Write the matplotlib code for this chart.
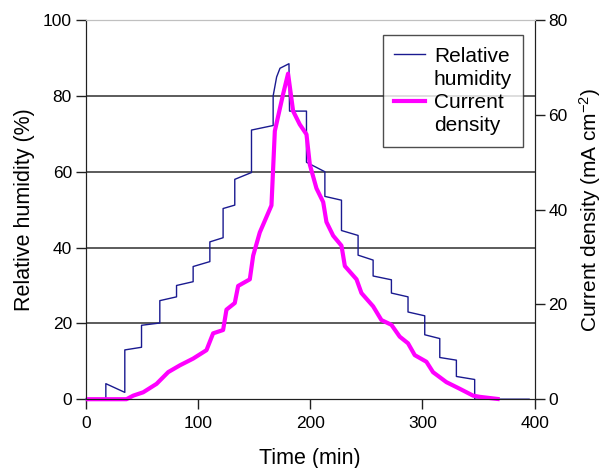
import matplotlib
matplotlib.use("Agg")
import matplotlib.pyplot as plt
from matplotlib.lines import Line2D

plt.rcParams['font.family'] = ['Liberation Sans', 'DejaVu Sans']
plt.rcParams['mathtext.fontset'] = 'custom'
plt.rcParams['mathtext.rm'] = 'Liberation Sans'
plt.rcParams['mathtext.it'] = 'Liberation Sans:italic'

# relative humidity (%), stepwise humidification then dehumidification
rh_time = [0, 17.8, 17.8, 34.7, 34.7, 49.6, 49.6, 65.9, 65.9, 80.8, 80.8,
           95.6, 95.6, 110.5, 110.5, 122.3, 122.3, 132.7, 132.7, 147.6, 147.6,
           166.9, 166.9, 170, 173, 181, 181.5, 196.6, 196.6, 213, 213,
           227.8, 227.8, 242.6, 242.6, 256, 256, 272.3, 272.3, 287.1, 287.1,
           302, 302, 315.4, 315.4, 330.2, 330.2, 346.5, 346.5, 395]
rh_value = [0, 0, 4.1, 1.8, 13.0, 13.7, 19.5, 20.1, 26.0, 27.0, 30.0,
            31.0, 35.0, 36.3, 41.5, 42.6, 50.3, 51.2, 58.0, 59.8, 71.0,
            72.2, 80.0, 85.0, 87.3, 88.5, 76.0, 76.0, 62.5, 60.0, 53.5,
            52.5, 44.5, 43.2, 38.0, 36.7, 32.5, 31.5, 28.0, 27.0, 23.0,
            22.0, 17.0, 16.0, 11.0, 10.3, 6.0, 5.2, 0, 0]

# current density (mA cm-2)
cd_time = [0, 36.2, 42.2, 51.1, 63.0, 73.4, 83.8, 95.6, 107.5, 113.4, 122.3,
           125.3, 132.7, 135.7, 146.1, 149.1, 155.0, 165.4, 168.4, 175.8,
           180.2, 184.7, 190.6, 196.6, 199.6, 205.5, 211.5, 214.4, 220.4,
           227.8, 230.8, 241.2, 245.6, 256.0, 263.4, 272.3, 279.7, 287.1,
           293.1, 303.5, 309.4, 321.3, 333.2, 345.1, 351.0, 368.8]
cd_value = [0, 0, 0.75, 1.46, 3.24, 5.72, 7.15, 8.57, 10.35, 13.9, 14.6,
            18.9, 20.3, 23.9, 25.3, 30.3, 35.2, 40.9, 56.6, 64.4,
            68.7, 60.8, 58.0, 55.9, 49.5, 44.5, 41.6, 37.4, 34.5,
            32.4, 28.1, 25.3, 22.4, 19.6, 16.7, 15.7, 13.2, 11.8,
            9.3, 7.9, 5.7, 3.6, 2.2, 0.75, 0.5, 0]

fig = plt.figure(figsize=(6.09, 4.68), dpi=100, facecolor='white')
ax = fig.add_axes([0.141, 0.147, 0.737, 0.810])
ax2 = ax.twinx()

for y in [20, 40, 60, 80]:
    ax.axhline(y, color='#404040', lw=1.2, zorder=0)

l1, = ax.plot(rh_time, rh_value, color='#1a1a90', lw=1.0, clip_on=False, zorder=3)
l2, = ax2.plot(cd_time, cd_value, color='#ff00ff', lw=3.0, clip_on=False,
               solid_joinstyle='round', solid_capstyle='butt')

ax.set_xlim(0, 400)
ax.set_ylim(0, 100)
ax2.set_ylim(0, 80)
ax.set_xticks([0, 100, 200, 300, 400])
ax.set_yticks([0, 20, 40, 60, 80, 100])
ax2.set_yticks([0, 20, 40, 60, 80])

for a in (ax, ax2):
    a.spines['top'].set_color('#c0c0c0')
    a.spines['left'].set_color('#202020')
    a.spines['right'].set_color('#202020')
    a.spines['bottom'].set_color('#202020')
ax.tick_params(axis='both', direction='out', length=7, width=1, color='#202020',
               labelsize=12.5)
ax.tick_params(axis='x', pad=5)
ax.tick_params(axis='y', pad=3)
ax2.tick_params(axis='y', direction='out', length=7, width=1, color='#202020',
                labelsize=12.5, pad=3)

ax.set_xlabel('Time (min)', fontsize=15.5, labelpad=12)
ax.set_ylabel('Relative humidity (%)', fontsize=15.5, labelpad=6)
ax2.set_ylabel(r'Current density (mA cm$^{-2}$)', fontsize=15, labelpad=7)

blank = Line2D([], [], color='none')
leg = ax2.legend([l1, blank, Line2D([], [], color='#ff00ff', lw=3), blank],
                 ['Relative', 'humidity', 'Current', 'density'],
                 loc='upper right', bbox_to_anchor=(0.975, 0.96), borderaxespad=0,
                 fontsize=15, frameon=True, fancybox=False, edgecolor='#202020',
                 handlelength=1.5, handletextpad=0.4, labelspacing=0.2,
                 borderpad=0.55)
leg.get_frame().set_linewidth(1.0)

fig.savefig('out.png', dpi=100)
